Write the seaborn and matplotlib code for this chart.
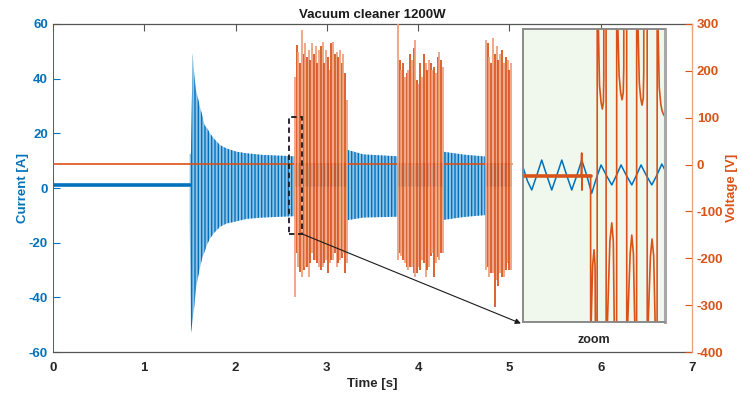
import matplotlib
matplotlib.use("Agg")
import matplotlib.pyplot as plt
from matplotlib.patches import Rectangle, ConnectionPatch
import numpy as np
import seaborn as sns

BLUE = "#0072BD"
ORANGE = "#D95319"
LIGHT_ORANGE = "#EE9E7A"

# --- data ---

# idle current before the motor starts
idle_t = [0.0, 1.5]
idle_i = [1.0, 1.0]

# envelope of the current oscillation once the motor runs
cur_t = [1.497, 1.512, 1.530, 1.548, 1.565, 1.590, 1.612, 1.635, 1.660, 1.690,
         1.720, 1.760, 1.830, 1.900, 2.010, 2.120, 2.300, 2.648, 2.652, 3.215,
         3.220, 3.400, 3.778, 3.782, 4.268, 4.272, 4.500, 4.738, 4.742, 5.020]
cur_hi = [12.5, 12.5, 49.5, 41.3, 36.1, 32.6, 29.4, 26.7, 23.0, 21.8,
          20.0, 18.2, 15.7, 14.5, 13.3, 12.7, 12.1, 11.6, 9.0, 9.0,
          14.0, 12.3, 11.6, 9.0, 9.0, 13.3, 12.2, 11.5, 9.0, 9.0]
cur_lo = [-12.0, -53.0, -48.0, -43.4, -37.0, -32.5, -29.0, -25.5, -23.4, -20.5,
          -18.5, -16.6, -14.2, -13.0, -12.2, -11.3, -10.8, -10.3, 0.5, 0.5,
          -11.8, -10.8, -10.5, 0.5, 0.5, -11.7, -10.6, -9.9, 0.5, 0.5]

# voltage: flat part and the three switching bursts
volt_t = [0.0, 5.03]
volt_v = [2.0, 2.0]

burst_start = [2.65, 3.78, 4.74]
burst_end = [3.22, 4.27, 5.02]
b1_hi = [187, 255, 241, 216, 287, 237, 259, 230, 245, 224, 259, 237, 252, 216, 245, 252,
         262, 216, 245, 230, 202, 259, 262, 237, 241, 230, 245, 216, 237, 195, 138]
b1_lo = [-282, -189, -218, -230, -239, -225, -218, -218, -239, -210, -189, -204, -204, -211, -218, -225,
         -218, -210, -204, -232, -211, -204, -204, -189, -218, -210, -204, -200, -189, -232, -210]
b2_hi = [300, 223, 202, 216, 187, 195, 202, 237, 223, 248, 266, 180, 173, 216, 187, 237,
         216, 202, 223, 216, 202, 209, 195, 230, 241, 223, 209]
b2_lo = [-204, -189, -196, -204, -211, -218, -225, -218, -218, -232, -239, -232, -218, -225, -204, -211,
         -239, -225, -218, -196, -189, -239, -211, -197, -204, -189, -189]
b3_hi = [266, 259, 230, 216, 270, 237, 252, 223, 237, 245, 216, 230, 223, 202, 216]
b3_lo = [-225, -218, -239, -232, -232, -303, -246, -260, -232, -239, -239, -225, -211, -225, -225]
bursts_hi = [b1_hi, b2_hi, b3_hi]
bursts_lo = [b1_lo, b2_lo, b3_lo]

# zoomed window (time in ms from the start of the dashed box)
ins_ct = [0, 4.3, 8.6, 13.5, 18.4, 23.4, 28.3, 33.2, 38.2, 43.1, 48.0, 53.0, 57.9, 62.8,
          67.7, 72.3, 76.9, 82.2, 87.5, 92.0, 96.6, 101.9, 107.2, 111.7, 116.3, 121.6,
          126.9, 131.8, 136.8, 140.0]
ins_ci = [6.0, -4.0, -10.9, 0, 11.6, 0, -10.9, 0, 11.6, 0, -10.9, 0, 11.6, 0,
          -13.4, -2.0, 7.9, 0, -7.1, 0, 7.9, 0, -7.1, 0, 7.9, 0, -7.1, 0, 8.6, 4.0]

ins_flat_t = [0.0, 66.6]
ins_flat_v = [-2.0, -2.0]
ins_vt = [57.3, 57.8, 58.1, 58.4, 66.6, 66.8,
          67.2, 68.6, 70.0, 71.0, 71.3, 71.5, 73.0, 73.2,
          74.0, 74.3, 75.4, 76.9, 78.2, 79.2, 79.6, 79.9, 81.8, 82.0,
          82.8, 83.2, 85.6, 87.5, 89.0, 89.9, 90.2, 92.2, 92.4,
          93.2, 93.5, 94.7, 96.2, 97.6, 98.8, 99.3, 99.6, 102.1, 102.3,
          102.8, 103.2, 105.6, 107.2, 108.8, 110.1, 110.4, 111.9, 112.1,
          113.1, 113.4, 114.6, 116.0, 117.3, 118.5, 119.0, 119.3, 122.3, 122.5,
          123.0, 123.4, 125.6, 127.2, 128.8, 130.2, 130.5, 132.1, 132.3,
          132.8, 133.1, 134.3, 135.8, 137.1, 138.5, 140.0]
ins_vv = [0, 46, -30, 0, 0, -900,
          -300, -185, -152, -185, -300, -900, -900, 900,
          900, 300, 185, 150, 136, 150, 200, 900, 900, -900,
          -900, -300, -135, -97, -135, -300, -900, -900, 900,
          900, 300, 205, 170, 155, 170, 220, 900, 900, -900,
          -900, -300, -160, -122, -160, -300, -900, -900, 900,
          900, 300, 190, 158, 144, 158, 210, 900, 900, -900,
          -900, -300, -165, -130, -165, -300, -900, -900, 900,
          900, 300, 180, 146, 132, 125, 120]

# --- style ---
sns.set_theme(style="white")
plt.rcParams["font.family"] = ["Liberation Sans", "DejaVu Sans"]
plt.rcParams["font.weight"] = "bold"
plt.rcParams["axes.unicode_minus"] = False
plt.rcParams["hatch.linewidth"] = 1.0
plt.rcParams["hatch.color"] = BLUE

fig = plt.figure(figsize=(7.42, 3.96), dpi=100)
ax = fig.add_axes([0.0714, 0.1111, 0.8612, 0.8283])
ax2 = ax.twinx()

# current
sns.lineplot(x=idle_t, y=idle_i, ax=ax, color=BLUE, lw=2.6)
ax.fill_between(cur_t, cur_lo, cur_hi, facecolor="#93C4E6", edgecolor=BLUE,
                hatch="|||||", linewidth=0)

# voltage
sns.lineplot(x=volt_t, y=volt_v, ax=ax2, color=ORANGE, lw=1.2)
for t0, t1, hi, lo in zip(burst_start, burst_end, bursts_hi, bursts_lo):
    tt = np.linspace(t0, t1, len(hi))
    cols = [ORANGE if k % 2 else LIGHT_ORANGE for k in range(len(hi))]
    ax2.vlines(tt, lo, hi, colors=cols, lw=1.4, alpha=0.9)

ax.set_xlim(0, 7)
ax.set_ylim(-60, 60)
ax2.set_ylim(-400, 300)
ax.set_xticks(range(0, 8))
ax.set_yticks(range(-60, 61, 20))
ax2.set_yticks(range(-400, 301, 100))

fs = 9.5
ax.set_title("Vacuum cleaner 1200W", fontsize=fs, fontweight="bold", pad=4, color="#1a1a1a")
ax.set_xlabel("Time [s]", fontsize=fs, fontweight="bold", color="#262626", labelpad=3)
ax.set_ylabel("Current [A]", fontsize=fs, fontweight="bold", color=BLUE, labelpad=0)
ax2.set_ylabel("Voltage [V]", fontsize=fs, fontweight="bold", color=ORANGE, labelpad=2)

ax.tick_params(axis="x", direction="in", top=True, length=5, width=0.8,
               color="#555555", labelcolor="#262626", labelsize=fs, pad=7)
ax.tick_params(axis="y", direction="in", length=5, width=0.8, colors=BLUE, labelsize=fs)
ax2.tick_params(axis="y", direction="in", length=5, width=0.8, colors=ORANGE, labelsize=fs)
for lab in ax.get_xticklabels() + ax.get_yticklabels() + ax2.get_yticklabels():
    lab.set_fontweight("bold")

for s in ("top", "bottom"):
    ax.spines[s].set_color("#555555")
    ax.spines[s].set_linewidth(0.9)
    ax2.spines[s].set_visible(False)
ax.spines["left"].set_color(BLUE)
ax.spines["left"].set_linewidth(0.7)
ax.spines["right"].set_visible(False)
ax2.spines["left"].set_visible(False)
ax2.spines["right"].set_color("#EE9E7A")
ax2.spines["right"].set_linewidth(0.9)

# dashed box marking the zoomed window
box = Rectangle((2.585, -16.8), 0.143, 42.8, transform=ax.transData, fill=False,
                ec="#1a1a1a", lw=1.3, ls=(0, (3, 2)), zorder=5)
ax2.add_patch(box)

# inset
axins = fig.add_axes([0.7049, 0.1869, 0.1914, 0.7399])
axins.set_facecolor("#F0F8EE")
sns.lineplot(x=ins_ct, y=ins_ci, ax=axins, color=BLUE, lw=1.1, estimator=None, sort=False)
axins.set_xlim(0, 140)
axins.set_ylim(-110, 110)
axins2 = axins.twinx()
sns.lineplot(x=ins_flat_t, y=ins_flat_v, ax=axins2, color=ORANGE, lw=2.6)
sns.lineplot(x=ins_vt, y=ins_vv, ax=axins2, color=ORANGE, lw=1.2, estimator=None, sort=False)
axins2.set_ylim(-300, 300)
for a in (axins, axins2):
    a.set_xticks([])
    a.set_yticks([])
    a.set_xlabel("")
    a.set_ylabel("")
    for s in a.spines.values():
        s.set_color("#8a8a8a")
        s.set_linewidth(1.2)
axins2.spines["right"].set_color("#a8a8a8")
axins2.spines["right"].set_linewidth(2.2)
axins.set_xlabel("zoom", fontsize=9, fontweight="bold", color="#262626", labelpad=9)

con = ConnectionPatch(xyA=(2.728, -16.8), coordsA=ax.transData, xyB=(-0.015, -0.005),
                      coordsB=axins.transAxes, arrowstyle="-|>", mutation_scale=8,
                      color="#1a1a1a", lw=0.8)
fig.add_artist(con)

fig.savefig("out.png", dpi=100)
